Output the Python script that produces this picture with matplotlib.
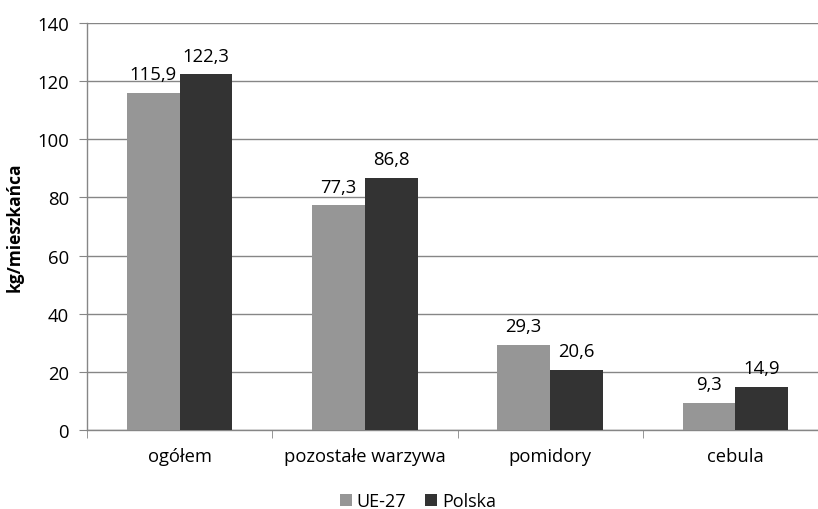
import numpy as np
import matplotlib.pyplot as plt
from matplotlib.ticker import FixedLocator

categories = ['ogółem', 'pozostałe warzywa', 'pomidory', 'cebula']
ue27 = [115.9, 77.3, 29.3, 9.3]
polska = [122.3, 86.8, 20.6, 14.9]
series_names = ['UE-27', 'Polska']

plt.rcParams['font.family'] = ['Open Sans', 'DejaVu Sans']

fig = plt.figure(figsize=(8.18, 5.10), dpi=100)
ax = fig.add_axes([0.1064, 0.1549, 0.8936, 0.798])

x = np.arange(len(categories))
w = 0.285
c_ue = '#969696'
c_pl = '#333333'
b1 = ax.bar(x - w / 2, ue27, w, color=c_ue, label=series_names[0], zorder=3)
b2 = ax.bar(x + w / 2, polska, w, color=c_pl, label=series_names[1], zorder=3)

# etykiety wartości nad słupkami
for bars in (b1, b2):
    for bar in bars:
        h = bar.get_height()
        ax.annotate(f'{h:.1f}'.replace('.', ','), (bar.get_x() + bar.get_width() / 2, h),
                    xytext=(0, 7), textcoords='offset points',
                    ha='center', va='bottom', fontsize=13.3, color='black')

ax.set_xlim(-0.5, 3.446)
ax.set_ylim(0, 140)
ax.set_yticks(range(0, 141, 20))
ax.yaxis.grid(True, color='#868686', linewidth=1, zorder=0)
ax.set_axisbelow(True)

for s in ['top', 'right']:
    ax.spines[s].set_visible(False)
for s in ['left', 'bottom']:
    ax.spines[s].set_color('#868686')
    ax.spines[s].set_linewidth(1)

ax.set_xticks(x)
ax.set_xticklabels(categories, fontsize=13.2)
ax.tick_params(axis='x', which='major', length=0, pad=12)
ax.xaxis.set_minor_locator(FixedLocator([-0.5, 0.5, 1.5, 2.5, 3.5]))
ax.tick_params(axis='x', which='minor', length=6, color='#868686', direction='out')
ax.tick_params(axis='y', length=6, color='#868686', direction='out', labelsize=13.3, pad=7)

ax.set_ylabel('kg/mieszkańca', fontsize=12.5, fontweight='bold', labelpad=10)

fig.legend(loc='center', bbox_to_anchor=(0.511, 0.015), ncol=2, frameon=False,
           fontsize=13, handlelength=0.67, handleheight=0.67, handletextpad=0.28,
           columnspacing=1.05, borderpad=0)

fig.savefig('out.png', dpi=100)
